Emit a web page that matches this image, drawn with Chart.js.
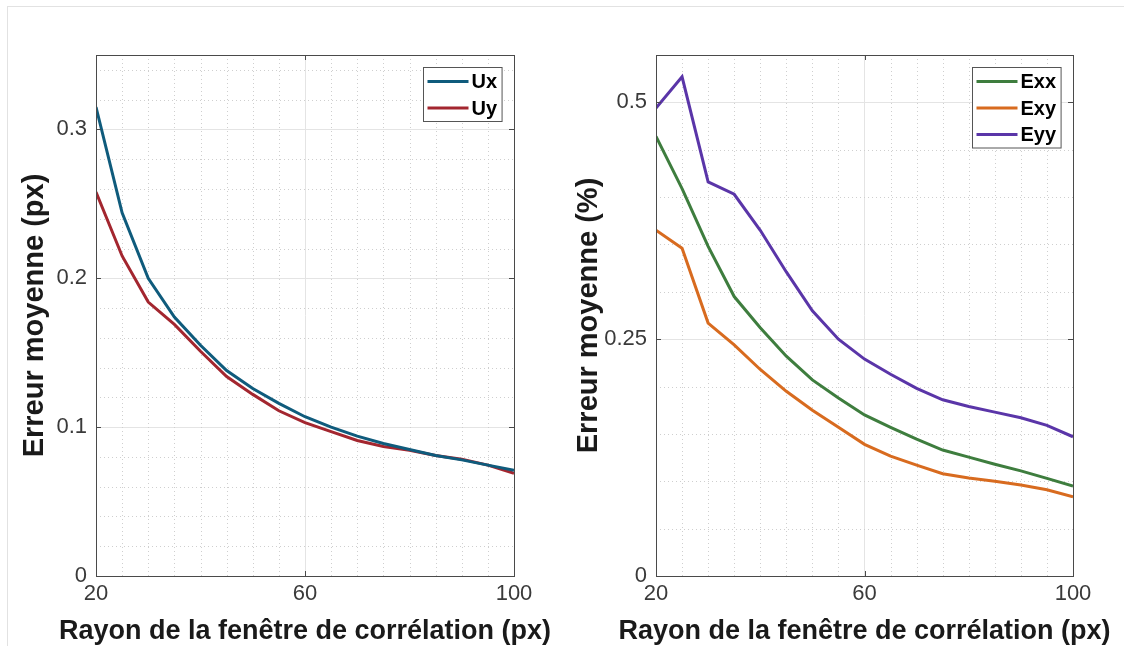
<!DOCTYPE html>
<html>
<head>
<meta charset="utf-8">
<script src="https://cdn.jsdelivr.net/npm/chart.js@4/dist/chart.umd.min.js"></script>
<style>
    body { margin: 0; background: #fff; }
    #frame { position: absolute; left: 7px; top: 6px; width: 1130px; height: 660px; border-left: 1px solid #e2e2e2; border-top: 1px solid #e2e2e2; }
    .box { position: absolute; top: 0; width: 562px; height: 646px; }
</style>
</head>
<body>
<div id="frame"></div>
<div class="box" style="left:0"><canvas id="left"></canvas></div>
<div class="box" style="left:562px"><canvas id="right"></canvas></div>
<script>
const radius = [20, 25, 30, 35, 40, 45, 50, 55, 60, 65, 70, 75, 80, 85, 90, 95, 100];

const ux = [0.315, 0.244, 0.200, 0.174, 0.155, 0.138, 0.126, 0.116, 0.107, 0.100, 0.094, 0.089, 0.085, 0.081, 0.078, 0.0745, 0.071];
const uy = [0.258, 0.215, 0.184, 0.169, 0.151, 0.134, 0.122, 0.111, 0.103, 0.097, 0.091, 0.087, 0.0845, 0.081, 0.0785, 0.0745, 0.069];

const exx = [0.464, 0.409, 0.348, 0.295, 0.262, 0.232, 0.207, 0.188, 0.170, 0.157, 0.1445, 0.133, 0.1255, 0.118, 0.111, 0.103, 0.095];
const exy = [0.365, 0.346, 0.267, 0.244, 0.218, 0.195, 0.175, 0.157, 0.139, 0.1265, 0.117, 0.108, 0.1035, 0.100, 0.096, 0.091, 0.0835];
const eyy = [0.494, 0.527, 0.416, 0.403, 0.365, 0.321, 0.280, 0.250, 0.229, 0.213, 0.198, 0.186, 0.179, 0.173, 0.167, 0.159, 0.147];

const xTicks = [20, 60, 100];
const leftYTicks = [0, 0.1, 0.2, 0.3];
const rightYTicks = [0, 0.25, 0.5];

const xTitle = "Rayon de la fenêtre de corrélation (px)";
const FONT = "'Liberation Sans', Arial, Helvetica, sans-serif";
const AXIS_COLOR = "#4a4a4a";

function isMajor(v, ticks) {
    return ticks.some(t => Math.abs(t - v) < 1e-6);
}

const matlabAxes = {
    id: "matlabAxes",
    beforeDatasetsDraw(chart, args, opts) {
        const { ctx, chartArea: a, scales: { x, y } } = chart;
        ctx.save();
        ctx.strokeStyle = "#cfcfcf";
        ctx.lineWidth = 1;
        ctx.setLineDash([1, 3]);
        for (let v = x.min + opts.minorX; v < x.max - 1e-6; v += opts.minorX) {
            if (isMajor(v, xTicks)) continue;
            const px = Math.round(x.getPixelForValue(v)) + 0.5;
            ctx.beginPath(); ctx.moveTo(px, a.top); ctx.lineTo(px, a.bottom); ctx.stroke();
        }
        for (let v = y.min + opts.minorY; v < y.max - 1e-6; v += opts.minorY) {
            if (isMajor(v, opts.yTicks)) continue;
            const py = Math.round(y.getPixelForValue(v)) + 0.5;
            ctx.beginPath(); ctx.moveTo(a.left, py); ctx.lineTo(a.right, py); ctx.stroke();
        }
        ctx.restore();
    },
    afterDatasetsDraw(chart, args, opts) {
        const { ctx, chartArea: a, scales: { x, y } } = chart;
        ctx.save();
        ctx.strokeStyle = AXIS_COLOR;
        ctx.lineWidth = 1;
        ctx.strokeRect(Math.round(a.left) + 0.5, Math.round(a.top) + 0.5, Math.round(a.right - a.left), Math.round(a.bottom - a.top));
        ctx.beginPath();
        xTicks.forEach(v => {
            const px = Math.round(x.getPixelForValue(v)) + 0.5;
            ctx.moveTo(px, a.top); ctx.lineTo(px, a.top + 5);
            ctx.moveTo(px, a.bottom); ctx.lineTo(px, a.bottom - 5);
        });
        opts.yTicks.forEach(v => {
            const py = Math.round(y.getPixelForValue(v)) + 0.5;
            ctx.moveTo(a.left, py); ctx.lineTo(a.left + 5, py);
            ctx.moveTo(a.right, py); ctx.lineTo(a.right - 5, py);
        });
        ctx.stroke();

        // x label drawn here so that it is not squeezed to the axis width
        ctx.font = "bold 27px " + FONT;
        ctx.fillStyle = "#1a1a1a";
        ctx.textAlign = "center";
        ctx.textBaseline = "alphabetic";
        ctx.fillText(xTitle, (a.left + a.right) / 2, 639);

        // legend box, top right inside the axes
        const sets = chart.data.datasets;
        ctx.font = "bold 20px " + FONT;
        const textW = Math.max(...sets.map(d => ctx.measureText(d.label).width));
        const rowH = 26.5;
        const w = 4 + 41 + 4 + textW + 4;
        const h = sets.length * rowH + 1;
        const bx = Math.round(a.right - 12 - w) + 0.5;
        const by = Math.round(a.top + 12) + 0.5;
        ctx.fillStyle = "#fff";
        ctx.fillRect(bx, by, w, h);
        ctx.strokeStyle = "#555";
        ctx.strokeRect(bx, by, w, h);
        ctx.textBaseline = "middle";
        ctx.textAlign = "left";
        sets.forEach((d, i) => {
            const cy = by + 14 + i * rowH;
            ctx.strokeStyle = d.borderColor;
            ctx.lineWidth = 3;
            ctx.beginPath(); ctx.moveTo(bx + 4, cy); ctx.lineTo(bx + 45, cy); ctx.stroke();
            ctx.fillStyle = "#000";
            ctx.fillText(d.label, bx + 48, cy + 1);
        });
        ctx.restore();
    }
};

function createChart(id, datasets, yMax, yTicks, minorY, yTitle, titlePad, padRight) {
    new Chart(id, {
        type: "line",
        data: {
            labels: radius,
            datasets: datasets.map(d => ({
                label: d.label,
                data: d.values.map((v, i) => ({ x: radius[i], y: v })),
                borderColor: d.color,
                backgroundColor: d.color,
                borderWidth: 3,
                pointRadius: 0,
                tension: 0,
                fill: false
            }))
        },
        options: {
            responsive: true,
            maintainAspectRatio: false,
            animation: false,
            layout: { padding: { top: 55, right: padRight, left: 0, bottom: 0 } },
            plugins: {
                legend: { display: false },
                tooltip: { enabled: false },
                matlabAxes: { minorX: 5, minorY: minorY, yTicks: yTicks }
            },
            scales: {
                x: {
                    type: "linear",
                    min: 20,
                    max: 100,
                    afterBuildTicks: s => { s.ticks = xTicks.map(v => ({ value: v })); },
                    afterFit: s => { s.height = 70; },
                    grid: { color: "#e4e4e4", drawTicks: false },
                    border: { display: false },
                    ticks: { color: "#3a3a3a", padding: 5, maxRotation: 0, font: { family: FONT, size: 22 }, callback: v => String(v) },
                    title: { display: false }
                },
                y: {
                    min: 0,
                    max: yMax,
                    afterBuildTicks: s => { s.ticks = yTicks.map(v => ({ value: v })); },
                    afterFit: s => { s.width = id === "left" ? 96 : 94; },
                    grid: { color: "#e4e4e4", drawTicks: false },
                    border: { display: false },
                    ticks: { color: "#3a3a3a", padding: 9, font: { family: FONT, size: 22 }, callback: v => String(v) },
                    title: { display: true, text: yTitle, color: "#1a1a1a", padding: { top: titlePad, bottom: 0 }, font: { family: FONT, size: 29, weight: "bold" } }
                }
            }
        },
        plugins: [matlabAxes]
    });
}

createChart("left", [
    { label: "Ux", values: ux, color: "#0f5b7c" },
    { label: "Uy", values: uy, color: "#a3262f" }
], 0.35, leftYTicks, 0.02, "Erreur moyenne (px)", 18, 48);

createChart("right", [
    { label: "Exx", values: exx, color: "#3e7d3e" },
    { label: "Exy", values: exy, color: "#d86b1f" },
    { label: "Eyy", values: eyy, color: "#5a35a8" }
], 0.55, rightYTicks, 0.05, "Erreur moyenne (%)", 10, 51);
</script>
</body>
</html>
